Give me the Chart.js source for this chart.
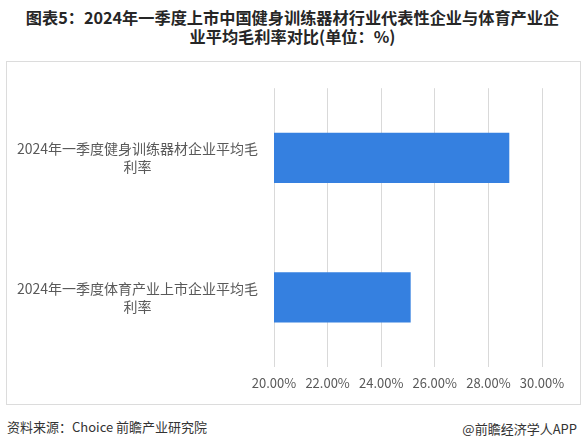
<!DOCTYPE html>
<html>
<head>
<meta charset="utf-8">
<script src="https://cdn.jsdelivr.net/npm/chart.js@4/dist/chart.umd.min.js"></script>
<style>
  html, body { margin: 0; padding: 0; background: #fff; }
  body { width: 585px; height: 448px; position: relative; overflow: hidden;
         font-family: "Noto Sans CJK SC", "Noto Sans", sans-serif; }
  #title { position: absolute; left: 0; top: 8px; width: 585px; text-align: center;
           font-size: 16.2px; font-weight: bold; line-height: 19px; color: #262626; }
  #frame { position: absolute; left: 6px; top: 61px; width: 573px; height: 342px;
           border: 1px solid #dcdcdc; }
  #source { position: absolute; left: 7px; top: 417px; font-size: 13px; color: #333; }
  #brand { position: absolute; right: 8px; top: 419px; font-size: 13px; color: #333; }
</style>
</head>
<body>
<div id="title">图表5：2024年一季度上市中国健身训练器材行业代表性企业与体育产业企<br>业平均毛利率对比(单位：%)</div>
<div id="frame"><canvas id="chart" width="573" height="342"></canvas></div>
<div id="source">资料来源：Choice 前瞻产业研究院</div>
<div id="brand">@前瞻经济学人APP</div>
<script>
  // categories (already wrapped the way the picture wraps them)
  const categories = [
    ['2024年一季度健身训练器材企业平均毛', '利率'],
    ['2024年一季度体育产业上市企业平均毛', '利率'],
  ];
  const margins = [28.78, 25.1];
  const axisTicks = [20, 22, 24, 26, 28, 30];

  const fontFamily = '"Noto Sans CJK SC", "Noto Sans", sans-serif';

  new Chart(document.getElementById('chart'), {
    type: 'bar',
    data: {
      labels: categories,
      datasets: [
        {
          data: margins,
          backgroundColor: '#3580e0',
          barPercentage: 0.36,
          categoryPercentage: 1,
        },
      ],
    },
    options: {
      indexAxis: 'y',
      responsive: false,
      animation: false,
      layout: {
        padding: { top: 14, right: 38, left: 0, bottom: 0 },
      },
      plugins: {
        legend: false,
        tooltip: { enabled: false },
      },
      scales: {
        x: {
          min: axisTicks[0],
          max: axisTicks[axisTicks.length - 1],
          afterBuildTicks: (scale) => {
            scale.ticks = axisTicks.map((v) => ({ value: v }));
          },
          afterFit: (scale) => {
            scale.height = 37;
          },
          border: { display: false },
          grid: {
            color: '#d9d9d9',
            drawTicks: false,
          },
          ticks: {
            padding: 8,
            color: '#595959',
            font: { family: fontFamily, size: 13 },
            callback: (v) => v.toFixed(2) + '%',
          },
        },
        y: {
          afterFit: (scale) => {
            scale.width = 267;
          },
          border: { display: false },
          grid: { display: false },
          ticks: {
            crossAlign: 'center',
            padding: 8,
            color: '#595959',
            font: { family: fontFamily, size: 14, lineHeight: 1.3 },
          },
        },
      },
    },
  });
</script>
</body>
</html>
